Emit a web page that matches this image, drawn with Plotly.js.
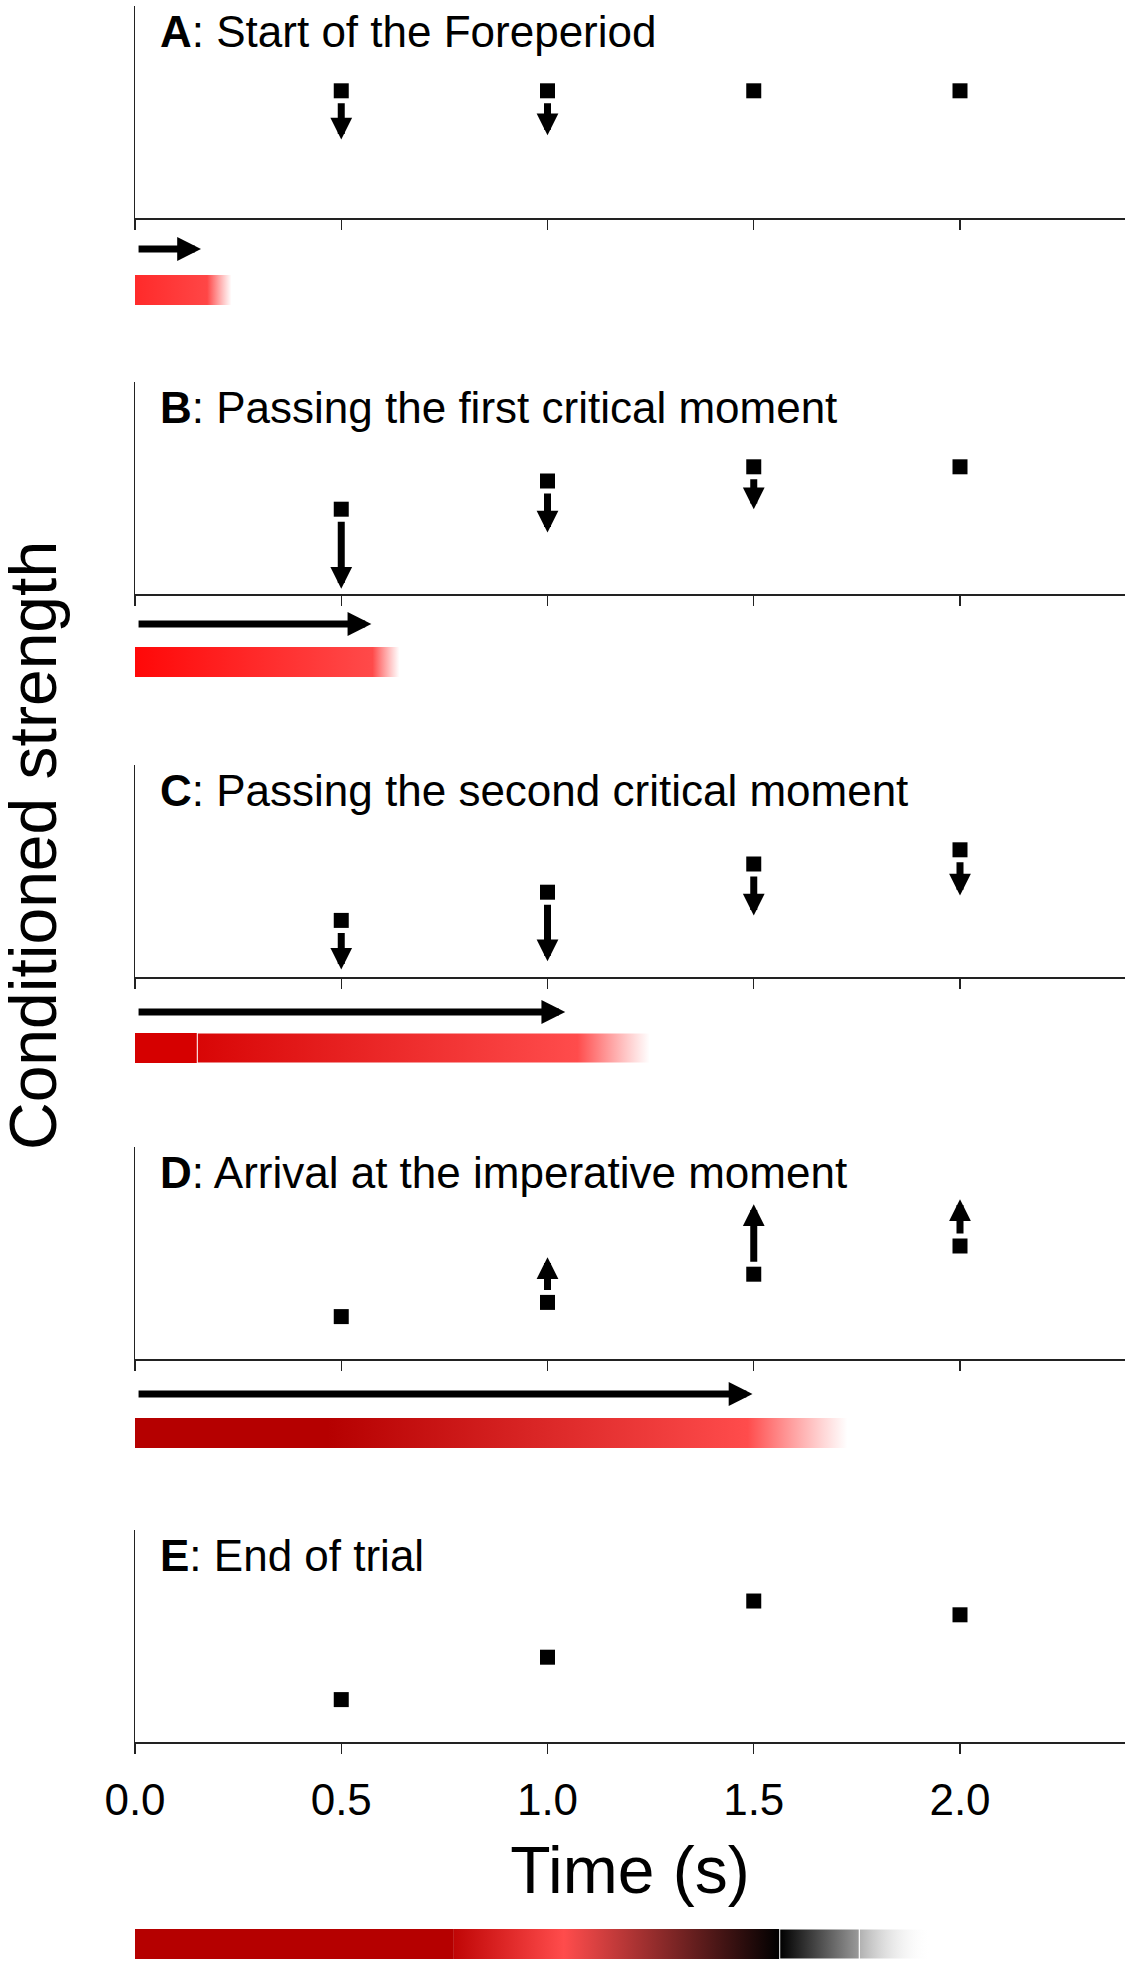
<!DOCTYPE html>
<html>
<head>
<meta charset="utf-8">
<script src="https://cdn.plot.ly/plotly-3.0.1.min.js"></script>
<style>
  body { margin: 0; background: #fff; }
  #plot { width: 1133px; height: 1966px; }
</style>
</head>
<body>
<div id="plot"></div>
<script>
// time points (s)
const times = [0.5, 1.0, 1.5, 2.0];
const panelLetters = ['A', 'B', 'C', 'D', 'E'];
const panelNames = [
  'Start of the Foreperiod',
  'Passing the first critical moment',
  'Passing the second critical moment',
  'Arrival at the imperative moment',
  'End of trial'
];

// conditioned strength at each time point
const strengthA = [0.60, 0.60, 0.60, 0.60];
const strengthB = [0.40, 0.533, 0.60, 0.60];
const strengthC = [0.267, 0.40, 0.533, 0.60];
const strengthD = [0.20, 0.267, 0.40, 0.533];
const strengthE = [0.20, 0.40, 0.665, 0.60];

// where the change arrows point to (null = no arrow)
const changeA = [0.37, 0.39, null, null];
const changeB = [0.025, 0.29, 0.40, null];
const changeC = [0.035, 0.074, 0.29, 0.385];
const changeD = [null, 0.48, 0.73, 0.753];

// elapsed-time arrow and memory trace under panels A-D (s)
const elapsed = [0.16, 0.573, 1.043, 1.497];
const traceEnd = [0.234, 0.641, 1.248, 1.727];
const fadeStart = [0.175, 0.576, 1.073, 1.485];
const solidEnd = [0, 0, 0.151, 0.467];

// breakpoints of the key bar at the bottom (s)
const keyStops = [0, 0.773, 1.04, 1.563, 1.756, 1.93];

const strengths = [strengthA, strengthB, strengthC, strengthD, strengthE];
const changes = [changeA, changeB, changeC, changeD, null];

// page layout in pixels
const H = 1966, W = 1133, ML = 135, MR = 8;
const panelTop = [6, 382, 765, 1147, 1530];
const panelAxis = [218, 594, 977, 1359, 1742];
const arrowRow = [249, 624, 1012, 1394];
const barRow = [275, 647, 1033, 1418];
const barH = 30;
const keyRow = 1929;

function py(p) { return 1 - p / H; }
function px(p) { return (p - ML) / (W - ML - MR); }
function ax(n, k) { return n === 1 ? k : k + n; }

const FONT = '"Liberation Sans", Arial, sans-serif';
const traces = [];
const annotations = [];
const layout = {
  width: W, height: H,
  margin: { l: ML, r: MR, t: 0, b: 0 },
  paper_bgcolor: '#fff',
  plot_bgcolor: 'rgba(0,0,0,0)',
  showlegend: false,
  font: { family: FONT, color: '#000' },
  annotations: annotations
};

function barTrace(xid, yid, from, to, scale, seam) {
  return {
    x: [from, to, to, from, from],
    y: [0, 0, barH, barH, 0],
    xaxis: xid, yaxis: yid,
    type: 'scatter', mode: 'lines', fill: 'toself',
    line: { color: '#fff', width: seam ? 1 : 0 },
    fillgradient: { type: 'horizontal', colorscale: scale },
    hoverinfo: 'skip'
  };
}

for (let i = 0; i < 5; i++) {
  const n = i + 1;
  const xid = ax(n, 'x'), yid = ax(n, 'y');
  const last = i === 4;

  layout[ax(n, 'xaxis')] = {
    range: [0, 2.4], anchor: yid,
    showline: true, linecolor: '#222', linewidth: 2,
    ticks: 'outside', ticklen: 10, tickwidth: 1.3, tickcolor: '#222',
    tickvals: [0, 0.5, 1, 1.5, 2], tickformat: '.1f',
    showticklabels: last,
    tickfont: { size: 44, color: '#000' },
    ticklabelstandoff: 8,
    showgrid: false, zeroline: false, fixedrange: true,
    title: last ? { text: 'Time (s)', font: { size: 66, color: '#000' }, standoff: 24 } : { text: '' }
  };
  layout[ax(n, 'yaxis')] = {
    domain: [py(panelAxis[i]), py(panelTop[i])],
    range: [0, 1], anchor: xid,
    showline: true, linecolor: '#222', linewidth: 1.5,
    ticks: '', showticklabels: false,
    showgrid: false, zeroline: false, fixedrange: true
  };

  traces.push({
    x: times, y: strengths[i],
    xaxis: xid, yaxis: yid,
    type: 'scatter', mode: 'markers', cliponaxis: false,
    marker: { symbol: 'square', size: 15, color: '#000' },
    hoverinfo: 'skip'
  });

  annotations.push({
    xref: 'paper', yref: 'paper',
    x: px(158), y: py(panelTop[i] - 1),
    xanchor: 'left', yanchor: 'top',
    text: '<b>' + panelLetters[i] + '</b>: ' + panelNames[i],
    showarrow: false, font: { size: 44, color: '#000' }
  });

  if (changes[i]) {
    changes[i].forEach((target, k) => {
      if (target === null) return;
      annotations.push({
        xref: xid, yref: yid, axref: xid, ayref: yid,
        x: times[k], y: target, ax: times[k], ay: strengths[i][k],
        text: '', showarrow: true,
        arrowhead: 2, arrowsize: 0.62, arrowwidth: 7, arrowcolor: '#000',
        startstandoff: 11
      });
    });
  }

  if (i < 4) {
    // strip under the panel holding the time arrow and the trace bar (units: px from bar bottom)
    const sid = 'y' + (6 + i);
    const stripTop = arrowRow[i] - 16;
    const stripH = barRow[i] + barH - stripTop;
    layout['yaxis' + (6 + i)] = {
      domain: [py(barRow[i] + barH), py(stripTop)],
      range: [0, stripH], anchor: xid, visible: false, fixedrange: true
    };
    const arrowY = barRow[i] + barH - arrowRow[i];
    annotations.push({
      xref: xid, yref: sid, axref: xid, ayref: sid,
      x: elapsed[i], y: arrowY, ax: 0.005, ay: arrowY,
      text: '', showarrow: true,
      arrowhead: 2, arrowsize: 0.68, arrowwidth: 7, arrowcolor: '#000'
    });

    const end = traceEnd[i];
    const fade = fadeStart[i] / end;
    const gone = 'rgba(255,90,90,0)';
    if (i === 0) {
      traces.push(barTrace(xid, sid, 0, end, [[0, '#ff2a2a'], [fade, '#ff4646'], [1, gone]], false));
    } else if (i === 1) {
      traces.push(barTrace(xid, sid, 0, end, [[0, '#ff0808'], [fade, '#ff4a4a'], [1, gone]], false));
    } else if (i === 2) {
      const s = solidEnd[i];
      traces.push(barTrace(xid, sid, 0, s, [[0, '#d60000'], [1, '#d60000']], false));
      const f = (fadeStart[i] - s) / (end - s);
      traces.push(barTrace(xid, sid, s, end, [[0, '#d80606'], [f, '#ff4c4c'], [1, gone]], true));
    } else {
      const s = solidEnd[i] / end;
      traces.push(barTrace(xid, sid, 0, end, [[0, '#b50000'], [s, '#b50000'], [fade, '#ff4c4c'], [1, gone]], false));
    }
  }
}

// key bar at the bottom
layout.yaxis10 = {
  domain: [py(keyRow + barH), py(keyRow)],
  range: [0, barH], anchor: 'x5', visible: false, fixedrange: true
};
const k = keyStops;
const mid = (k[2] - k[1]) / (k[3] - k[1]);
traces.push(barTrace('x5', 'y10', k[0], k[1], [[0, '#b50000'], [1, '#b50000']], false));
traces.push(barTrace('x5', 'y10', k[1], k[3], [[0, '#c00606'], [mid, '#ff4c4c'], [1, '#000000']], false));
traces.push(barTrace('x5', 'y10', k[3], k[4], [[0, '#000000'], [1, '#9a9a9a']], true));
traces.push(barTrace('x5', 'y10', k[4], k[5], [[0, '#b0b0b0'], [1, 'rgba(255,255,255,0)']], true));

// shared y title
annotations.push({
  xref: 'paper', yref: 'paper',
  x: px(33), y: py(846),
  xanchor: 'center', yanchor: 'middle',
  text: 'Conditioned strength', textangle: -90,
  showarrow: false, font: { size: 66, color: '#000' }
});

Plotly.newPlot('plot', traces, layout, { staticPlot: true });
</script>
</body>
</html>
